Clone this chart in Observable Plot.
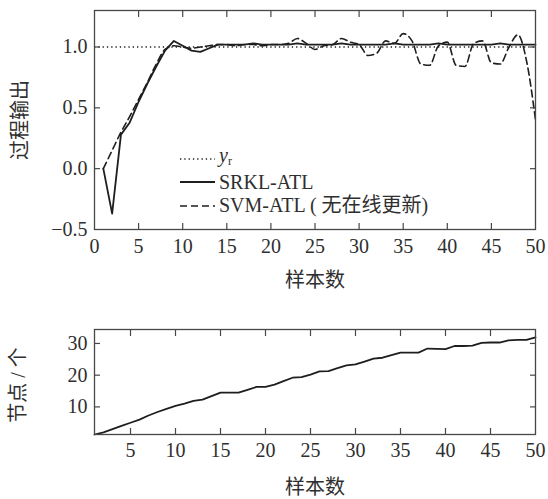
<!DOCTYPE html>
<html><head><meta charset="utf-8">
<script src="https://cdn.jsdelivr.net/npm/d3@7"></script>
<script src="https://cdn.jsdelivr.net/npm/@observablehq/plot@0.6"></script>
<style>
body{margin:0;background:#fff}
#wrap{position:relative;width:548px;height:499px;font-family:"Liberation Serif","Noto Sans CJK SC",serif;color:#2f2f2f;background:#fff}
#wrap svg, #wrap svg text{font-family:"Liberation Serif","Noto Sans CJK SC",serif !important}
#top,#bottom{position:absolute;left:0}
#top{top:0}
#bottom{top:300px}
.legend{position:absolute;left:180px;top:147px;font-size:20px;line-height:23.5px}
.legend .row{display:flex;align-items:center;height:23.5px;white-space:nowrap}
.legend svg{width:35px;height:10px;margin-right:4px;flex:none}
.legend i{font-style:italic}
.legend sub{font-size:12px;vertical-align:-3px;font-style:normal}
</style></head><body>
<div id="wrap"><div id="top"></div><div id="bottom"></div><div class="legend" id="legend"></div></div>
<script>
// ---- data ----
const samples = [1,2,3,4,5,6,7,8,9,10,11,12,13,14,15,16,17,18,19,20,21,22,23,24,25,26,27,28,29,30,31,32,33,34,35,36,37,38,39,40,41,42,43,44,45,46,47,48,49,50];
const srkl = [0.00,-0.37,0.28,0.38,0.55,0.70,0.84,0.97,1.05,1.01,0.97,0.96,0.99,1.02,1.02,1.02,1.02,1.03,1.02,1.02,1.02,1.02,1.03,1.02,1.02,1.02,1.02,1.03,1.02,1.02,1.02,1.02,1.02,1.03,1.02,1.02,1.02,1.02,1.03,1.02,1.02,1.02,1.02,1.02,1.02,1.03,1.02,1.02,1.02,1.02];
const svm = [0.00,0.15,0.30,0.43,0.57,0.71,0.86,0.98,1.01,1.00,0.99,1.00,1.01,1.02,1.02,1.01,1.02,1.02,1.01,1.02,1.02,1.03,1.07,1.03,0.98,1.01,1.02,1.07,1.04,1.02,0.93,0.95,1.05,1.03,1.11,1.05,0.86,0.85,1.01,1.04,0.85,0.84,1.03,1.05,0.87,0.86,1.00,1.10,0.88,0.40];
const yr = [1.0];
const nodes = [1.3,2,3,4,5,6,7.3,8.4,9.4,10.3,11,11.9,12.3,13.4,14.5,14.5,14.5,15.4,16.3,16.3,17,18.1,19.2,19.4,20.2,21.2,21.3,22.2,23.1,23.4,24.3,25.2,25.5,26.3,27.1,27.1,27.1,28.4,28.3,28.2,29.2,29.2,29.3,30.2,30.3,30.3,31,31.1,31.1,31.9];
const xTicksTop = [0,5,10,15,20,25,30,35,40,45,50];
const yTicksTop = [-0.5,0,0.5,1.0];
const xTicksBottom = [5,10,15,20,25,30,35,40,45,50];
const yTicksBottom = [10,20,30];
const xLabel = "样本数";
const yLabelTop = "过程输出";
const yLabelBottom = "节点 / 个";
const seriesNames = ["SRKL-ATL", "SVM-ATL ( 无在线更新)"];

const FONT = '"Liberation Serif","Noto Sans CJK SC",serif';
const INK = "#1e1e1e";
const FRAME = "#474747";
const TK = 6;

function inwardTicks(xtInner, ytInner) {
  const common = {tickSize: TK, fill: "none", label: null, stroke: FRAME, strokeWidth: 1.2};
  return [
    Plot.axisX({...common, anchor: "bottom", ticks: xtInner, insetBottom: TK}),
    Plot.axisX({...common, anchor: "top", ticks: xtInner, insetTop: TK}),
    Plot.axisY({...common, anchor: "left", ticks: ytInner, insetLeft: TK}),
    Plot.axisY({...common, anchor: "right", ticks: ytInner, insetRight: TK})
  ];
}

const topData = samples.map((s, i) => ({s, srkl: srkl[i], svm: svm[i]}));
const fmt1 = d3.format(".1f");

const topPlot = Plot.plot({
  width: 548, height: 300,
  marginLeft: 94, marginRight: 13, marginTop: 10, marginBottom: 71,
  style: {fontFamily: FONT, fontSize: "20px", color: "#2f2f2f", background: "#fff", overflow: "visible"},
  x: {domain: [0, 50]},
  y: {domain: [-0.5, 1.3]},
  marks: [
    Plot.ruleY(yr, {stroke: INK, strokeWidth: 1.4, strokeDasharray: "1.3,3"}),
    Plot.line(topData, {x: "s", y: "svm", curve: "monotone-x", stroke: INK, strokeWidth: 1.6, strokeDasharray: "7,4"}),
    Plot.line(topData, {x: "s", y: "srkl", stroke: INK, strokeWidth: 1.8}),
    Plot.frame({stroke: FRAME, strokeWidth: 1.3}),
    ...inwardTicks(xTicksTop.filter(d => d > 0 && d < 50), yTicksTop.filter(d => d > -0.5)),
    Plot.axisX({anchor: "bottom", ticks: xTicksTop, tickSize: 0, tickPadding: 9, label: null, tickFormat: d => String(d), fontFamily: FONT}),
    Plot.axisY({anchor: "left", ticks: yTicksTop, tickSize: 0, tickPadding: 7, label: null, tickFormat: fmt1, fontFamily: FONT}),
    Plot.text([xLabel], {text: d => d, frameAnchor: "bottom", lineAnchor: "middle", textAnchor: "middle", dy: 51, fontFamily: FONT}),
    Plot.text([yLabelTop], {text: d => d, frameAnchor: "left", textAnchor: "middle", lineAnchor: "middle", dx: -74, rotate: -90, fontFamily: FONT})
  ]
});
document.getElementById("top").append(topPlot);

const bottomData = samples.map((s, i) => ({s, n: nodes[i]}));
const bottomPlot = Plot.plot({
  width: 548, height: 199,
  marginLeft: 94, marginRight: 13, marginTop: 29, marginBottom: 65,
  style: {fontFamily: FONT, fontSize: "20px", color: "#2f2f2f", background: "#fff", overflow: "visible"},
  x: {domain: [1, 50]},
  y: {domain: [1.3, 34.4]},
  marks: [
    Plot.line(bottomData, {x: "s", y: "n", stroke: INK, strokeWidth: 1.8}),
    Plot.frame({stroke: FRAME, strokeWidth: 1.3}),
    ...inwardTicks(xTicksBottom.filter(d => d < 50), yTicksBottom),
    Plot.axisX({anchor: "bottom", ticks: xTicksBottom, tickSize: 0, tickPadding: 8, label: null, tickFormat: d => String(d), fontFamily: FONT}),
    Plot.axisY({anchor: "left", ticks: yTicksBottom, tickSize: 0, tickPadding: 7, label: null, tickFormat: d => String(d), fontFamily: FONT}),
    Plot.text([xLabel], {text: d => d, frameAnchor: "bottom", lineAnchor: "middle", textAnchor: "middle", dy: 53, fontFamily: FONT}),
    Plot.text([yLabelBottom], {text: d => d, frameAnchor: "left", textAnchor: "middle", lineAnchor: "middle", dx: -76, dy: 3, rotate: -90, fontFamily: FONT})
  ]
});
document.getElementById("bottom").append(bottomPlot);

// ---- legend ----
const legendItems = [
  {html: '<i>y</i><sub>r</sub>', dash: "1.3,3", w: 1.4},
  {html: seriesNames[0], dash: null, w: 1.8},
  {html: seriesNames[1], dash: "7,4", w: 1.6}
];
const leg = document.getElementById("legend");
for (const it of legendItems) {
  const row = document.createElement("div");
  row.className = "row";
  row.innerHTML = `<svg viewBox="0 0 35 10"><line x1="0" x2="35" y1="5" y2="5" stroke="${INK}" stroke-width="${it.w}" ${it.dash ? `stroke-dasharray="${it.dash}"` : ""}/></svg><span>${it.html}</span>`;
  leg.append(row);
}
</script>
</body></html>
